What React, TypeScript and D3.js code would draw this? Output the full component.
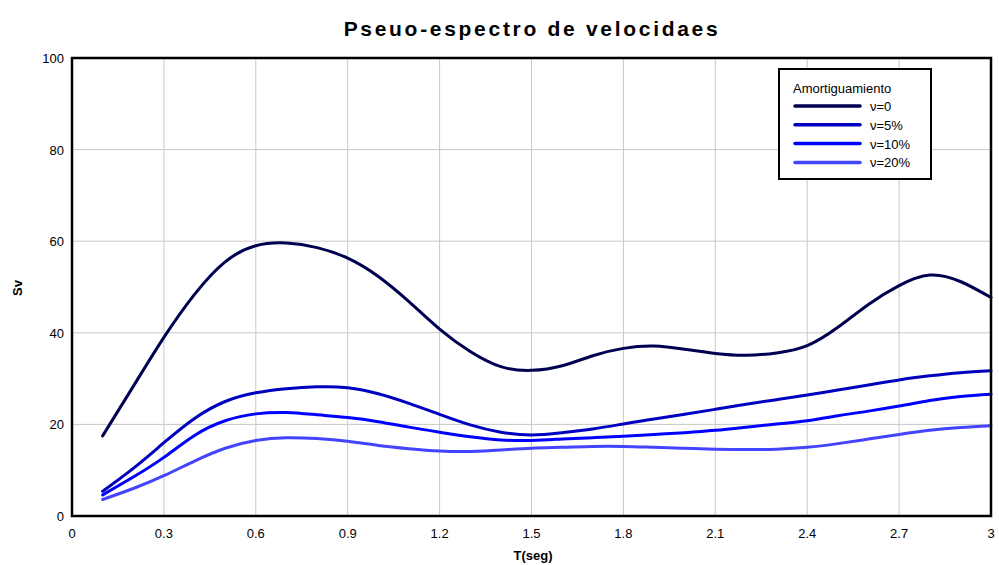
import React from "react";
import * as d3 from "d3";

const periods = [0.1,0.2,0.3,0.4,0.5,0.6,0.7,0.8,0.9,1.0,1.1,1.2,1.3,1.4,1.5,1.6,1.7,1.8,1.9,2.0,2.1,2.2,2.3,2.4,2.5,2.6,2.7,2.8,2.9,3.0];
const sv0 = [17.5,28.3,39.0,48.4,55.5,59.0,59.6,58.6,56.3,52.3,46.8,40.8,35.9,32.6,31.8,32.8,35.0,36.6,37.1,36.4,35.5,35.1,35.6,37.2,41.2,46.2,50.3,52.6,51.2,47.7];
const sv5 = [5.4,10.4,16.0,21.3,25.0,26.9,27.8,28.2,28.0,26.7,24.6,22.2,19.9,18.3,17.7,18.2,19.0,20.1,21.2,22.2,23.3,24.4,25.4,26.4,27.5,28.6,29.7,30.6,31.3,31.7];
const sv10 = [4.6,8.5,12.8,17.6,20.8,22.3,22.6,22.1,21.5,20.6,19.4,18.3,17.3,16.6,16.5,16.8,17.1,17.4,17.8,18.2,18.7,19.4,20.1,20.8,21.9,22.9,24.0,25.2,26.1,26.6];
const sv20 = [3.6,6.0,8.8,12.0,14.8,16.5,17.1,16.9,16.3,15.4,14.7,14.2,14.1,14.4,14.8,15.0,15.2,15.2,15.0,14.8,14.6,14.5,14.6,15.0,15.8,16.8,17.8,18.7,19.3,19.7];

const seriesNames = ["\u03bd=0", "\u03bd=5%", "\u03bd=10%", "\u03bd=20%"];
const seriesColors = ["#000050", "#0000c0", "#0000ff", "#4444ff"];
const xTicks = [0,0.3,0.6,0.9,1.2,1.5,1.8,2.1,2.4,2.7,3];
const yTicks = [0,20,40,60,80,100];

const W = 999, H = 565;
const L = 72, R = 991, T = 58, B = 516;

export default function App() {
  const x = d3.scaleLinear().domain([0, 3]).range([L, R]);
  const y = d3.scaleLinear().domain([0, 100]).range([B, T]);
  const all = [sv0, sv5, sv10, sv20];
  const line = d3.line<number>()
    .x((_, i) => x(periods[i]))
    .y((d) => y(d))
    .curve(d3.curveNatural);
  const font = "Liberation Sans, Arial, sans-serif";
  return (
    <svg width={W} height={H} style={{ position: "absolute", left: 0, top: 0, background: "#fff" }} fontFamily={font}>
      <rect x={0} y={0} width={W} height={H} fill="#fff" />
      {xTicks.slice(1, -1).map((t) => (
        <line key={"gx" + t} x1={x(t)} x2={x(t)} y1={T} y2={B} stroke="#c8c8c8" strokeWidth={1} />
      ))}
      {yTicks.slice(1, -1).map((t) => (
        <line key={"gy" + t} x1={L} x2={R} y1={y(t)} y2={y(t)} stroke="#c8c8c8" strokeWidth={1} />
      ))}
      {all.map((s, i) => (
        <path key={"s" + i} d={line(s) || ""} fill="none" stroke={seriesColors[i]} strokeWidth={3} strokeLinecap="round" />
      ))}
      <rect x={L} y={T} width={R - L} height={B - T} fill="none" stroke="#000" strokeWidth={2.5} />
      {xTicks.map((t) => (
        <text key={"tx" + t} x={x(t)} y={B + 22} textAnchor="middle" fontSize={13} fill="#000">{String(t)}</text>
      ))}
      {yTicks.map((t) => (
        <text key={"ty" + t} x={L - 8} y={y(t) + 5} textAnchor="end" fontSize={13} fill="#000">{String(t)}</text>
      ))}
      <text x={532} y={36} textAnchor="middle" fontSize={21} fontWeight="bold" letterSpacing={2.7} fill="#000">Pseuo-espectro de velocidaes</text>
      <text x={533} y={560} textAnchor="middle" fontSize={13} fontWeight="bold" fill="#000">T(seg)</text>
      <text transform={`translate(22,288) rotate(-90)`} textAnchor="middle" fontSize={13} fontWeight="bold" fill="#000">Sv</text>
      <g>
        <rect x={779} y={69} width={152} height={110} fill="#fff" stroke="#000" strokeWidth={2} />
        <text x={793} y={93} fontSize={13} fill="#000">Amortiguamiento</text>
        {seriesNames.map((n, i) => (
          <g key={"lg" + i}>
            <line x1={795} x2={860} y1={106 + i * 18.8} y2={106 + i * 18.8} stroke={seriesColors[i]} strokeWidth={3.5} strokeLinecap="round" />
            <text x={870} y={111 + i * 18.8} fontSize={13} fill="#000">{n}</text>
          </g>
        ))}
      </g>
    </svg>
  );
}
